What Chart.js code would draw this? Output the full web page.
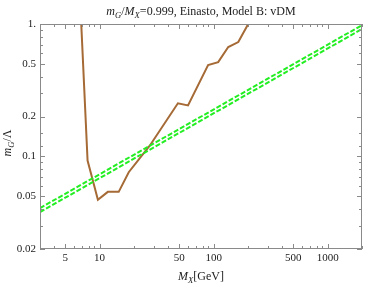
<!DOCTYPE html>
<html>
<head>
<meta charset="utf-8">
<script src="https://cdn.jsdelivr.net/npm/chart.js@4/dist/chart.umd.min.js"></script>
<style>
html,body{margin:0;padding:0;background:#fff;}
#wrap{position:relative;width:382px;height:286px;}
</style>
</head>
<body>
<div id="wrap"><canvas id="c"></canvas></div>
<script>
// ---- data ----
const brownMass  = [6.9, 7.84, 9.66, 11.8, 14.7, 18.0, 27.6, 48.6, 59.6, 89.4, 109.6, 134.3, 164.5, 201];
const brownLimit = [1.0, 0.093, 0.047, 0.054, 0.054, 0.076, 0.121, 0.252, 0.243, 0.489, 0.515, 0.67, 0.73, 1.0];
const bandMass   = [3, 2000];
const bandUpper  = [0.0407, 0.98];
const bandLower  = [0.038, 0.917];

const xMajorTicks = [5, 10, 50, 100, 500, 1000];
const xMajorLabels = ["5", "10", "50", "100", "500", "1000"];
const xMinorTicks = [3, 4, 6, 7, 8, 9, 20, 30, 40, 60, 70, 80, 90, 200, 300, 400, 600, 700, 800, 900, 2000];
const yMajorTicks = [0.02, 0.05, 0.1, 0.2, 0.5, 1];
const yMajorLabels = ["0.02", "0.05", "0.1", "0.2", "0.5", "1."];
const yMinorTicks = [0.03, 0.04, 0.06, 0.07, 0.08, 0.09, 0.12, 0.15, 0.3, 0.4, 0.6, 0.7, 0.8, 0.9];

const SERIF = "'Liberation Serif', 'DejaVu Serif', serif";

function pts(xs, ys){ return xs.map((x,i)=>({x:x, y:ys[i]})); }

// rich text helper: segments [text, italic, sub]
function drawRich(ctx, segs, x, y, size, align){
  const widths = segs.map(s=>{
    ctx.font = (s[1]?'italic ':'') + (s[2]?size*0.72:size) + 'px ' + SERIF;
    return ctx.measureText(s[0]).width;
  });
  const total = widths.reduce((a,b)=>a+b,0);
  let cx = align==='center' ? x - total/2 : x;
  ctx.textBaseline = 'alphabetic';
  ctx.textAlign = 'left';
  segs.forEach((s,i)=>{
    ctx.font = (s[1]?'italic ':'') + (s[2]?size*0.72:size) + 'px ' + SERIF;
    ctx.fillText(s[0], cx, y + (s[2]? size*0.22 : 0));
    cx += widths[i];
  });
}

const framePlugin = {
  id: 'frame',
  afterDatasetsDraw(chart){
    const {ctx, chartArea:a, scales} = chart;
    ctx.save();
    ctx.strokeStyle = '#8a8a8a';
    ctx.lineWidth = 1;
    ctx.strokeRect(a.left+0.5, a.top+0.5, a.right-a.left-1, a.bottom-a.top-1);
    ctx.beginPath();
    const tx = (v, len)=>{
      const p = Math.round(scales.x.getPixelForValue(v))+0.5;
      ctx.moveTo(p, a.bottom); ctx.lineTo(p, a.bottom-len);
      ctx.moveTo(p, a.top); ctx.lineTo(p, a.top+len);
    };
    const ty = (v, len)=>{
      const p = Math.round(scales.y.getPixelForValue(v))+0.5;
      ctx.moveTo(a.left, p); ctx.lineTo(a.left+len, p);
      ctx.moveTo(a.right, p); ctx.lineTo(a.right-len, p);
    };
    xMajorTicks.forEach(v=>tx(v,5)); xMinorTicks.forEach(v=>tx(v,3));
    yMajorTicks.forEach(v=>ty(v,5)); yMinorTicks.forEach(v=>ty(v,3));
    ctx.stroke();
    ctx.restore();
  },
  afterDraw(chart){
    const {ctx, chartArea:a} = chart;
    ctx.save();
    ctx.fillStyle = '#222';
    drawRich(ctx, [['m',true,false],['G',true,true],['/',false,false],['M',true,false],['X',true,true],['=0.999, Einasto, Model B: vDM',false,false]],
      (a.left+a.right)/2, 15, 12, 'center');
    drawRich(ctx, [['M',true,false],['X',true,true],['[GeV]',false,false]], (a.left+a.right)/2, 280, 12, 'center');
    ctx.translate(11, 143);
    ctx.rotate(-Math.PI/2);
    drawRich(ctx, [['m',true,false],['G',true,true],['/\u039B',false,false]], 0, 0, 12, 'center');
    ctx.restore();
  }
};

new Chart(document.getElementById('c'), {
  type: 'line',
  data: {
    datasets: [
      {data: pts(bandMass, bandUpper), borderColor:'#22ee22', borderWidth:2, borderDash:[5,2], pointRadius:0, fill:false, tension:0},
      {data: pts(bandMass, bandLower), borderColor:'#22ee22', borderWidth:2, borderDash:[5,2], pointRadius:0, fill:false, tension:0},
      {data: pts(brownMass, brownLimit), borderColor:'#a56a35', borderWidth:2, pointRadius:0, fill:false, tension:0}
    ]
  },
  options: {
    responsive: true,
    maintainAspectRatio: false,
    animation: false,
    layout: {padding: {top:24, right:20, left:0, bottom:0}},
    plugins: {legend:{display:false}, tooltip:{enabled:false}, title:{display:false}},
    scales: {
      x: {
        type:'logarithmic', min:3, max:2000,
        afterBuildTicks: s => { s.ticks = xMajorTicks.map(v=>({value:v})); },
        afterFit: s => { s.height = 37; },
        ticks: {autoSkip:false, maxRotation:0, padding:3, color:'#222', font:{family:SERIF, size:11},
          callback: v => { const i = xMajorTicks.indexOf(v); return i>=0 ? xMajorLabels[i] : ''; }},
        grid: {display:false, drawTicks:false}, border:{display:false}
      },
      y: {
        type:'logarithmic', min:0.02, max:1,
        afterBuildTicks: s => { s.ticks = yMajorTicks.map(v=>({value:v})); },
        afterFit: s => { s.width = 40; },
        ticks: {autoSkip:false, padding:4, color:'#222', font:{family:SERIF, size:11},
          callback: v => { const i = yMajorTicks.findIndex(t=>Math.abs(t-v)<1e-9); return i>=0 ? yMajorLabels[i] : ''; }},
        grid: {display:false, drawTicks:false}, border:{display:false}
      }
    }
  },
  plugins: [framePlugin]
});
</script>
</body>
</html>
